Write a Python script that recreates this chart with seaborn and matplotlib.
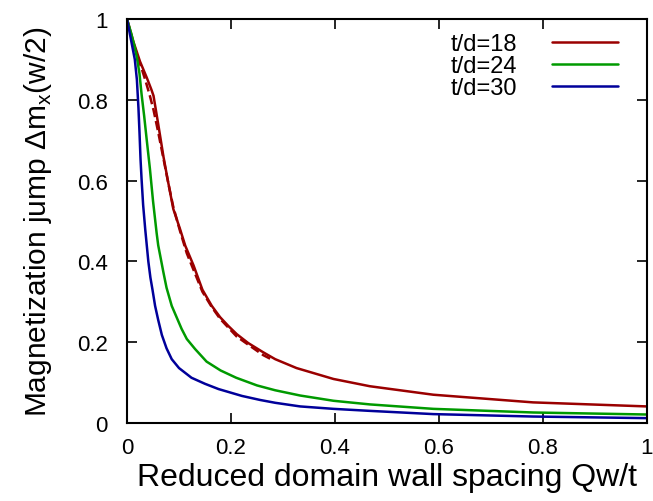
import pandas as pd
import matplotlib.pyplot as plt
import seaborn as sns

# values
x_18 = [0, 0.012, 0.025, 0.038, 0.047, 0.051, 0.060, 0.070, 0.078, 0.089, 0.102,
        0.112, 0.128, 0.145, 0.163, 0.179, 0.195, 0.211, 0.233, 0.262, 0.285,
        0.326, 0.397, 0.467, 0.589, 0.781, 1.0]
y_18 = [1.0, 0.945, 0.895, 0.855, 0.825, 0.81, 0.74, 0.66, 0.604, 0.53, 0.48,
        0.439, 0.39, 0.33, 0.290, 0.262, 0.240, 0.220, 0.198, 0.175, 0.158,
        0.136, 0.109, 0.091, 0.070, 0.051, 0.041]

# dashed red companion curve
x_18d = [0, 0.012, 0.025, 0.035, 0.044, 0.051, 0.060, 0.070, 0.080, 0.089, 0.102,
         0.115, 0.145, 0.163, 0.179, 0.211, 0.233, 0.262, 0.28]
y_18d = [1.0, 0.94, 0.89, 0.85, 0.81, 0.775, 0.72, 0.655, 0.59, 0.535, 0.475,
         0.42, 0.325, 0.287, 0.258, 0.214, 0.194, 0.168, 0.156]

x_24 = [0, 0.008, 0.015, 0.019, 0.024, 0.028, 0.033, 0.038, 0.044, 0.050, 0.057,
        0.060, 0.070, 0.076, 0.086, 0.105, 0.115, 0.131, 0.153, 0.180, 0.210,
        0.250, 0.285, 0.333, 0.397, 0.467, 0.589, 0.781, 1.0]
y_24 = [1.0, 0.965, 0.93, 0.905, 0.865, 0.814, 0.76, 0.70, 0.63, 0.55, 0.47,
        0.44, 0.373, 0.335, 0.290, 0.233, 0.208, 0.183, 0.152, 0.130, 0.112,
        0.093, 0.081, 0.068, 0.055, 0.046, 0.035, 0.026, 0.021]

x_30 = [0, 0.006, 0.012, 0.015, 0.019, 0.022, 0.024, 0.026, 0.028, 0.031, 0.035,
        0.041, 0.045, 0.049, 0.054, 0.060, 0.067, 0.076, 0.086, 0.100, 0.124,
        0.150, 0.176, 0.221, 0.256, 0.285, 0.333, 0.397, 0.467, 0.589, 0.781, 1.0]
y_30 = [1.0, 0.96, 0.92, 0.90, 0.85, 0.78, 0.72, 0.653, 0.604, 0.54, 0.48,
        0.40, 0.36, 0.33, 0.29, 0.255, 0.218, 0.185, 0.158, 0.136, 0.112,
        0.097, 0.084, 0.067, 0.057, 0.050, 0.041, 0.035, 0.030, 0.022, 0.016, 0.012]

labels = ['t/d=18', 't/d=24', 't/d=30']
colors = {'t/d=18': '#9a0000', 't/d=24': '#009a00', 't/d=30': '#00009a'}

df = pd.concat([
    pd.DataFrame({'x': x_18, 'y': y_18, 'series': labels[0]}),
    pd.DataFrame({'x': x_24, 'y': y_24, 'series': labels[1]}),
    pd.DataFrame({'x': x_30, 'y': y_30, 'series': labels[2]}),
])
df_dash = pd.DataFrame({'x': x_18d, 'y': y_18d})

sns.set_style("ticks")
plt.rcParams['font.family'] = ['Liberation Sans', 'DejaVu Sans']
plt.rcParams['text.color'] = 'black'
plt.rcParams['axes.labelcolor'] = 'black'

fig = plt.figure(figsize=(6.53, 5.02), dpi=100)
ax = fig.add_axes([0.1945, 0.1554, 0.7963, 0.8046])

sns.lineplot(ax=ax, data=df_dash, x='x', y='y', sort=False, estimator=None,
             color='#9a0000', lw=1.8, dashes=(2.5, 1.5), linestyle='--', legend=False)
sns.lineplot(ax=ax, data=df, x='x', y='y', hue='series', sort=False,
             estimator=None, palette=colors, lw=1.8)

ax.set_xlim(0, 1)
ax.set_ylim(0, 1)
ax.set_xticks([0, 0.2, 0.4, 0.6, 0.8, 1])
ax.set_xticklabels(['0', '0.2', '0.4', '0.6', '0.8', '1'])
ax.set_yticks([0, 0.2, 0.4, 0.6, 0.8, 1])
ax.set_yticklabels(['0', '0.2', '0.4', '0.6', '0.8', '1'])
ax.tick_params(direction='in', length=7, width=1.2, top=True, right=True,
               labelsize=16, colors='black')
ax.tick_params(axis='x', pad=10)
ax.tick_params(axis='y', pad=14)
for s in ax.spines.values():
    s.set_linewidth(1.5)
    s.set_color('black')

ax.set_xlabel('Reduced domain wall spacing Qw/t', fontsize=23, labelpad=3)
ax.set_ylabel(r'Magnetization jump Δm$_\mathregular{x}$(w/2)', fontsize=21.5, labelpad=16)

ax.legend(frameon=False, markerfirst=False, fontsize=17, loc='upper right',
          bbox_to_anchor=(0.944, 0.966), borderaxespad=0, borderpad=0,
          handlelength=2.8, labelspacing=0.0, handletextpad=1.45)

fig.savefig('out.png', dpi=100)
